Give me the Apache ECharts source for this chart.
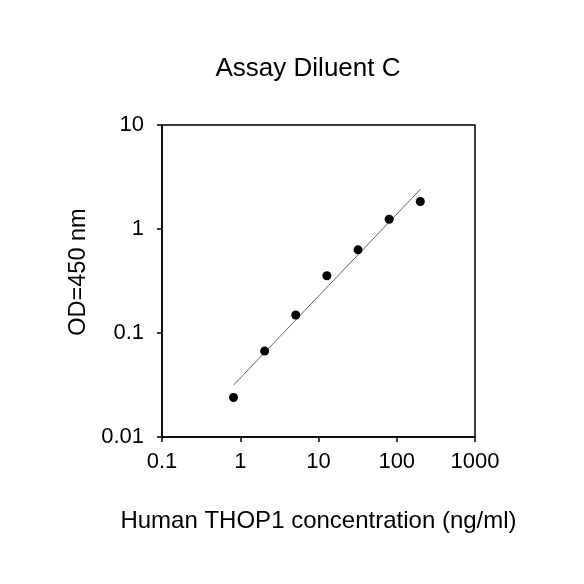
<!DOCTYPE html>
<html>
<head>
<meta charset="utf-8">
<script src="https://cdn.jsdelivr.net/npm/echarts@6/dist/echarts.min.js"></script>
<style>
  html, body { margin: 0; padding: 0; background: #fff; }
  #chart { width: 584px; height: 584px; }
</style>
</head>
<body>
<div id="chart"></div>
<script>
// standard curve points
const concentration = [0.82, 2.05, 5.12, 12.8, 32, 80, 200];
const od = [0.024, 0.067, 0.149, 0.355, 0.63, 1.24, 1.84];
// fitted line ends
const fitX = [0.82, 200];
const fitY = [0.0315, 2.4];

const chart = echarts.init(document.getElementById("chart"));
const font = "Liberation Sans, Arial, sans-serif";

const option = {
  backgroundColor: "#fff",
  animation: false,
  title: {
    text: "Assay Diluent C",
    left: 303,
    top: 51,
    textAlign: "center",
    textStyle: { fontFamily: font, fontSize: 26, fontWeight: "normal", color: "#000" }
  },
  grid: {
    left: 162,
    right: 109,
    top: 125,
    bottom: 147,
    show: true,
    borderColor: "#000",
    borderWidth: 1.5
  },
  xAxis: {
    type: "log",
    logBase: 10,
    min: 0.1,
    max: 1000,
    name: "Human THOP1 concentration (ng/ml)",
    nameLocation: "middle",
    nameGap: 72,
    nameTextStyle: { fontFamily: font, fontSize: 24, color: "#000" },
    axisLine: { lineStyle: { color: "#000", width: 1.5 } },
    axisTick: { show: true, length: 5, lineStyle: { color: "#000", width: 1.5 } },
    axisLabel: { fontFamily: font, fontSize: 22, color: "#000", margin: 14, formatter: v => String(v) },
    splitLine: { show: false },
    minorTick: { show: false }
  },
  yAxis: {
    type: "log",
    logBase: 10,
    min: 0.01,
    max: 10,
    name: "OD=450 nm",
    nameLocation: "middle",
    nameGap: 68,
    nameTextStyle: { fontFamily: font, fontSize: 23.5, color: "#000", padding: [0, 0, 0, 18] },
    axisLine: { lineStyle: { color: "#000", width: 1.5 } },
    axisTick: { show: true, length: 5, lineStyle: { color: "#000", width: 1.5 } },
    axisLabel: { fontFamily: font, fontSize: 22, color: "#000", margin: 18, formatter: v => String(v) },
    splitLine: { show: false }
  },
  series: [
    {
      type: "line",
      data: fitX.map((x, i) => [x, fitY[i]]),
      symbol: "none",
      lineStyle: { color: "#666", width: 1 },
      z: 1
    },
    {
      type: "scatter",
      data: concentration.map((x, i) => [x, od[i]]),
      symbolSize: 9,
      itemStyle: { color: "#000", opacity: 1 },
      z: 2
    }
  ]
};
chart.setOption(option);
</script>
</body>
</html>
